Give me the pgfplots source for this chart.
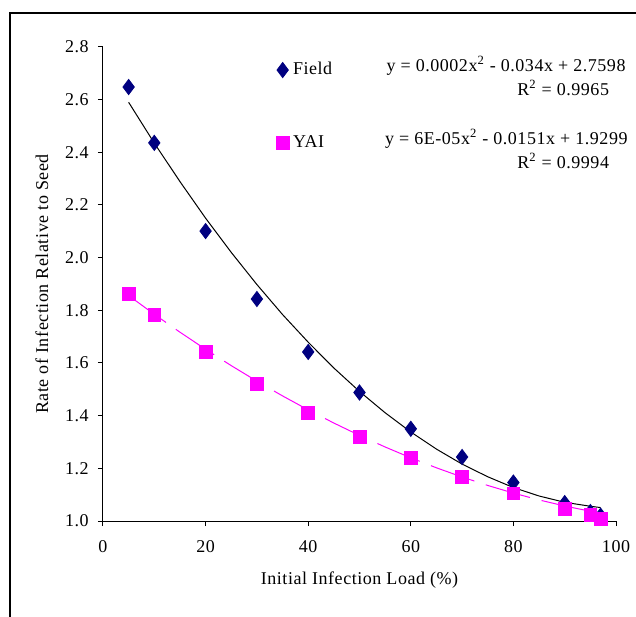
\documentclass[border=0pt]{standalone}
\usepackage{pgfplots}
\pgfplotsset{compat=1.18}
\usepackage{fontspec}
\setmainfont[LetterSpace=3]{Liberation Serif}
\definecolor{fieldnavy}{RGB}{0,0,128}
\definecolor{yaimag}{RGB}{255,0,255}

% measured points
\pgfplotstableread{
x y
5 2.648
10 2.436
20 2.101
30 1.843
40 1.642
50 1.488
60 1.350
70 1.243
80 1.146
90 1.068
95 1.034
97 1.020
}\fielddata
\pgfplotstableread{
x y
5 1.862
10 1.782
20 1.642
30 1.520
40 1.410
50 1.320
60 1.240
70 1.168
80 1.105
90 1.046
95 1.023
97 1.009
}\yaidata
% trend lines
\pgfplotstableread{
x y
5 2.590
10 2.435
15 2.289
20 2.150
25 2.020
30 1.898
35 1.784
40 1.679
45 1.581
50 1.492
55 1.411
60 1.338
65 1.273
70 1.216
75 1.168
80 1.127
85 1.095
90 1.071
95 1.056
97 1.051
}\fieldtrend
\pgfplotstableread{
x y
5 1.856
10 1.785
15 1.717
20 1.652
25 1.590
30 1.531
35 1.475
40 1.422
45 1.372
50 1.325
55 1.281
60 1.240
65 1.202
70 1.167
75 1.135
80 1.106
85 1.080
90 1.057
95 1.037
97 1.030
}\yaitrend

\begin{document}
\fontsize{9bp}{11bp}\selectfont
\begin{tikzpicture}
\useasboundingbox (-51.5bp,-48bp) rectangle (266.5bp,260.5bp);
\draw[line width=1bp] (-46.5bp,-48bp) -- (-46.5bp,254bp) -- (266.5bp,254bp);
\begin{axis}[
  at={(0,0)}, anchor=south west, scale only axis,
  width=256.5bp, height=237bp,
  xmin=0, xmax=100, ymin=1, ymax=2.8,
  axis x line=bottom, axis y line=left,
  axis line style={-, line width=0.5bp},
  xtick={0,20,...,100}, ytick={1.0,1.2,...,2.8},
  tick align=outside, major tick length=2.5bp,
  tick style={black, line width=0.5bp},
  /pgf/number format/assume math mode=true,
  ticklabel style={font=\fontsize{9bp}{11bp}\selectfont},
  xticklabel style={yshift=-4bp},
  yticklabel style={xshift=-1.5bp, /pgf/number format/.cd, fixed, fixed zerofill, precision=1},
  xlabel={Initial Infection Load (\%)},
  ylabel={Rate of Infection Relative to Seed},
  xlabel style={at={(axis description cs:0.5,-0.1245)}, anchor=center},
  ylabel style={at={(axis description cs:-0.119,0.5)}, anchor=center},
  clip=false,
  legend style={draw=none, fill=none, at={(axis cs:33.7,2.758)}, anchor=north west,
    inner sep=0pt, row sep=25bp, font=\fontsize{9bp}{11bp}\selectfont},
  legend cell align=left,
  legend image code/.code={\draw[mark repeat=2, mark phase=2, #1]
    plot coordinates {(0bp,0bp)(5bp,0bp)(10bp,0bp)};},
]
\addplot[black, line width=0.5bp, forget plot] table {\fieldtrend};
\addplot[yaimag, line width=0.5bp, dash pattern=on 23bp off 6bp, forget plot] table {\yaitrend};
\addplot[only marks, mark=diamond*, mark size=3.8bp, fieldnavy,
  mark options={fill=fieldnavy, draw=fieldnavy}] table {\fielddata};
\addlegendentry{Field}
\addplot[only marks, mark=square*, mark size=3.2bp, yaimag,
  mark options={fill=yaimag, draw=yaimag}] table {\yaidata};
\addlegendentry{YAI}
\node[anchor=east] at (axis cs:103.1,2.728) {y = 0.0002x\textsuperscript{2} - 0.034x + 2.7598};
\node at (axis cs:89.7,2.645) {R\textsuperscript{2} = 0.9965};
\node[anchor=east] at (axis cs:103.5,2.451) {y = 6E-05x\textsuperscript{2} - 0.0151x + 1.9299};
\node at (axis cs:89.7,2.367) {R\textsuperscript{2} = 0.9994};
\end{axis}
\end{tikzpicture}
\end{document}
